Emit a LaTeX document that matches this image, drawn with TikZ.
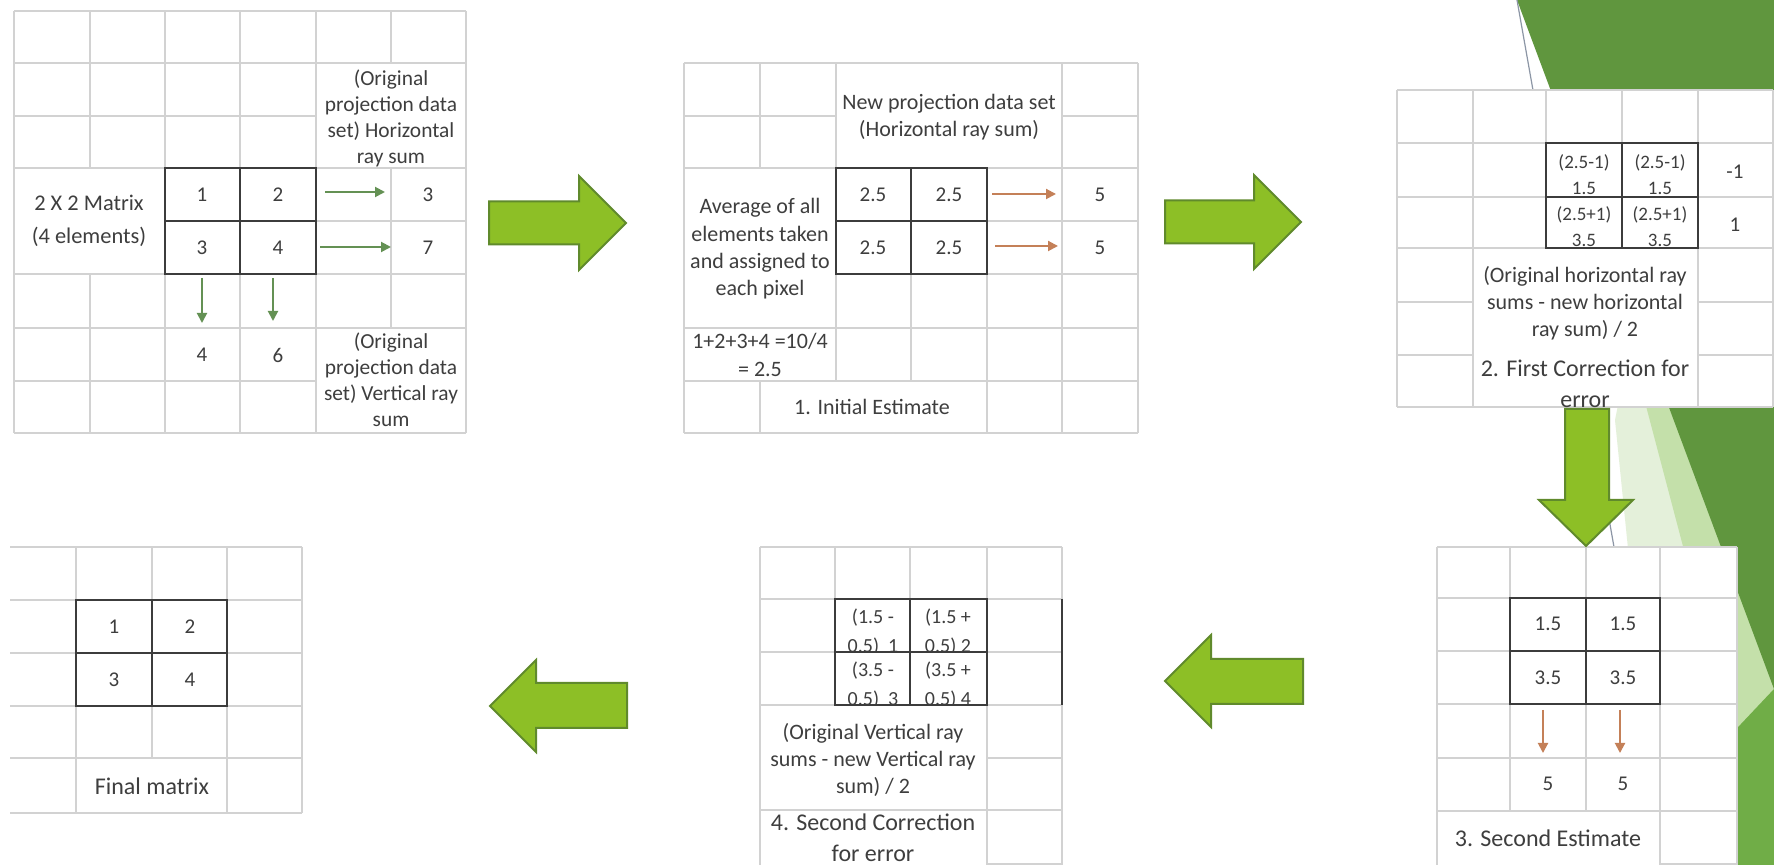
\documentclass[tikz,border=0pt]{standalone}
\usepackage{fontspec}
\setmainfont{Carlito}
\usetikzlibrary{arrows.meta}
\definecolor{gridc}{RGB}{210,210,210}
\definecolor{matc}{RGB}{60,60,60}
\definecolor{txtc}{RGB}{62,62,62}
\definecolor{arrfill}{RGB}{141,191,38}
\definecolor{arrdraw}{RGB}{96,138,44}
\definecolor{smallgreen}{RGB}{100,145,84}
\definecolor{smallorange}{RGB}{196,128,88}
\definecolor{darkgreen}{RGB}{96,150,62}
\definecolor{palegreen}{RGB}{196,224,170}
\definecolor{palelight}{RGB}{228,240,218}
\definecolor{brightgreen}{RGB}{112,173,71}
\definecolor{thinline}{RGB}{140,150,165}
\newcommand\mergecell[4]{\fill[white] ({#1+1},{#2+1}) rectangle ({#3-1},{#4-1});}
\tikzset{
 gridl/.style={draw=gridc, line width=0.85pt},
 mat/.style={draw=matc, line width=1.1pt},
 lbl/.style={text=txtc, font=\fontsize{10.7}{13}\selectfont, align=center, inner sep=0pt},
 lblb/.style={lbl, font=\fontsize{11}{13.7}\selectfont},
 lblc/.style={lbl, font=\fontsize{12}{13.5}\selectfont},
 lbln/.style={lbl, font=\fontsize{11}{13.5}\selectfont},
 num/.style={lbl, font=\fontsize{10.5}{13}\selectfont},
 cellt/.style={lbl, font=\fontsize{9.5}{13}\selectfont},
 bigarrow/.style={fill=arrfill, draw=arrdraw, line width=1pt, line join=miter},
 gsmall/.style={draw=smallgreen, line width=1pt, -{Triangle[length=5pt,width=5pt]}},
 osmall/.style={draw=smallorange, line width=1pt, -{Triangle[length=5pt,width=5pt]}},
}
\begin{document}
\begin{tikzpicture}[x=0.5pt,y=-0.5pt]
\useasboundingbox (0,0) rectangle (1774,865);
\fill[white] (0,0) rectangle (1774,865);
% ---------- background decoration (right side)
\fill[palelight] (1700,0) -- (1615,420) -- (1660,865) -- (1774,865) -- (1774,0) -- cycle;
\fill[palegreen] (1539,0) -- (1767,865) -- (1774,865) -- (1774,0) -- cycle;
\fill[darkgreen] (1517,0) -- (1774,0) -- (1774,689) -- cycle;
\fill[brightgreen] (1774,689) -- (1774,865) -- (1608,865) -- cycle;
\draw[thinline, line width=0.6pt] (1517,0) -- (1614,547);

% ================= Panel 1
\foreach \x in {14,90,165,240,316,391,466} \draw[gridl] (\x,11) -- (\x,433);
\foreach \y in {11,63,116,168,221,274,328,381,433} \draw[gridl] (14,\y) -- (466,\y);
\mergecell{316}{63}{466}{168}
\mergecell{14}{168}{165}{274}
\mergecell{316}{328}{466}{433}
\node[lbl, font=\fontsize{11.2}{16.5}\selectfont] (p1lab) at (89,221) {2 X 2 Matrix\\(4 elements)};
\node[lbl] (p1hs) at (391,118) {(Original\\projection data\\set) Horizontal\\ray sum};
\node[lbl] (p1vs) at (391,380) {(Original\\projection data\\set) Vertical ray\\sum};
\node[num] (p1a) at (202,195) {1};
\node[num] (p1b) at (278,195) {2};
\node[num] (p1c) at (202,248) {3};
\node[num] (p1d) at (278,248) {4};
\node[num] (p1r1) at (428,195) {3};
\node[num] (p1r2) at (428,248) {7};
\node[num] (p1c1) at (202,355) {4};
\node[num] (p1c2) at (278,355) {6};
\draw[mat] (165,168) rectangle (316,274);
\draw[mat] (240,168) -- (240,274);
\draw[mat] (165,221) -- (316,221);
\coordinate (p1h1s) at (325,192); \coordinate (p1h1e) at (385,192);
\coordinate (p1h2s) at (320,247); \coordinate (p1h2e) at (391,247);
\coordinate (p1v1s) at (202,278); \coordinate (p1v1e) at (202,323);
\coordinate (p1v2s) at (273,278); \coordinate (p1v2e) at (273,321);
\draw[gsmall] (p1h1s) -- (p1h1e);
\draw[gsmall] (p1h2s) -- (p1h2e);
\draw[gsmall] (p1v1s) -- (p1v1e);
\draw[gsmall] (p1v2s) -- (p1v2e);

% ================= Panel 2
\foreach \x in {684,760,836,911,987,1062,1138} \draw[gridl] (\x,63) -- (\x,433);
\foreach \y in {63,116,168,221,274,328,381,433} \draw[gridl] (684,\y) -- (1138,\y);
\mergecell{836}{63}{1062}{168}
\mergecell{684}{168}{836}{328}
\mergecell{684}{328}{836}{381}
\mergecell{760}{381}{987}{433}
\node[lblb] (p2new) at (949,117) {New projection data set\\(Horizontal ray sum)};
\node[lblb] (p2avg) at (760,249) {Average of all\\elements taken\\and assigned to\\each pixel};
\node[lblb] (p2sum) at (760,355) {1+2+3+4 =10/4\\= 2.5};
\node[lblb] (p2init) at (872,407) {1. Initial Estimate};
\node[num] (p2a) at (873,195) {2.5};
\node[num] (p2b) at (949,195) {2.5};
\node[num] (p2c) at (873,248) {2.5};
\node[num] (p2d) at (949,248) {2.5};
\node[num] (p2r1) at (1100,195) {5};
\node[num] (p2r2) at (1100,248) {5};
\draw[mat] (836,168) rectangle (987,274);
\draw[mat] (911,168) -- (911,274);
\draw[mat] (836,221) -- (987,221);
\coordinate (p2h1s) at (992,194); \coordinate (p2h1e) at (1056,194);
\coordinate (p2h2s) at (995,246); \coordinate (p2h2e) at (1058,246);
\draw[osmall] (p2h1s) -- (p2h1e);
\draw[osmall] (p2h2s) -- (p2h2e);

% ================= Panel 3
\fill[white] (1397,90) rectangle (1774,407);
\foreach \x in {1397,1473,1546,1622,1698,1773} \draw[gridl] (\x,90) -- (\x,407);
\foreach \y in {90,143,197,248,302,355,407} \draw[gridl] (1397,\y) -- (1773,\y);
\mergecell{1473}{248}{1698}{407}
\begin{scope}\clip (1546,143) rectangle (1622,197);
\node[cellt] (p3a) at (1584,175) {(2.5-1)\\1.5};\end{scope}
\begin{scope}\clip (1622,143) rectangle (1698,197);
\node[cellt] (p3b) at (1660,175) {(2.5-1)\\1.5};\end{scope}
\begin{scope}\clip (1546,197) rectangle (1622,248);
\node[cellt] (p3c) at (1584,227) {(2.5+1)\\3.5};\end{scope}
\begin{scope}\clip (1622,197) rectangle (1698,248);
\node[cellt] (p3d) at (1660,227) {(2.5+1)\\3.5};\end{scope}
\node[num] (p3r1) at (1735,172) {-1};
\node[num] (p3r2) at (1735,225) {1};
\node[lbln] (p3note) at (1585,303) {(Original horizontal ray\\sums - new horizontal\\ray sum) / 2};
\node[lblc, font=\fontsize{12}{15.5}\selectfont] (p3title) at (1585,384) {2. First Correction for\\error};
\draw[mat] (1546,143) rectangle (1698,248);
\draw[mat] (1622,143) -- (1622,248);
\draw[mat] (1546,197) -- (1698,197);

% ================= Panel 4
\fill[white] (1437,547) rectangle (1737,865);
\foreach \x in {1437,1510,1586,1660,1737} \draw[gridl] (\x,547) -- (\x,865);
\foreach \y in {547,598,651,704,758,811,864} \draw[gridl] (1437,\y) -- (1737,\y);
\mergecell{1437}{811}{1660}{866}
\node[num] (p4a) at (1548,624) {1.5};
\node[num] (p4b) at (1623,624) {1.5};
\node[num] (p4c) at (1548,678) {3.5};
\node[num] (p4d) at (1623,678) {3.5};
\node[num] (p4s1) at (1548,784) {5};
\node[num] (p4s2) at (1623,784) {5};
\node[lblc] (p4title) at (1548,838) {3. Second Estimate};
\draw[mat] (1510,598) rectangle (1660,704);
\draw[mat] (1586,598) -- (1586,704);
\draw[mat] (1510,651) -- (1660,651);
\coordinate (p4v1s) at (1543,710); \coordinate (p4v1e) at (1543,753);
\coordinate (p4v2s) at (1620,710); \coordinate (p4v2e) at (1620,753);
\draw[osmall] (p4v1s) -- (p4v1e);
\draw[osmall] (p4v2s) -- (p4v2e);

% ================= Panel 5
\foreach \x in {760,835,910,987,1062} \draw[gridl] (\x,547) -- (\x,865);
\foreach \y in {547,599,652,705,758,810,864} \draw[gridl] (760,\y) -- (1062,\y);
\mergecell{760}{705}{987}{810}
\mergecell{760}{810}{987}{866}
\begin{scope}\clip (835,599) rectangle (910,652);
\node[lbl, font=\fontsize{10}{14.5}\selectfont] (p5a) at (873,632) {(1.5 -\\0.5)~ 1};\end{scope}
\begin{scope}\clip (910,599) rectangle (987,652);
\node[lbl, font=\fontsize{10}{14.5}\selectfont] (p5b) at (948,632) {(1.5 +\\0.5) 2};\end{scope}
\begin{scope}\clip (835,652) rectangle (910,705);
\node[lbl, font=\fontsize{10}{14.5}\selectfont] (p5c) at (873,685) {(3.5 -\\0.5)~ 3};\end{scope}
\begin{scope}\clip (910,652) rectangle (987,705);
\node[lbl, font=\fontsize{10}{14.5}\selectfont] (p5d) at (948,685) {(3.5 +\\0.5) 4};\end{scope}
\node[lbln] (p5note) at (873,760) {(Original Vertical ray\\sums - new Vertical ray\\sum) / 2};
\node[lblc, font=\fontsize{12}{15.5}\selectfont] (p5title) at (873,838) {4. Second Correction\\for error};
\draw[mat] (835,599) rectangle (987,705);
\draw[mat] (910,599) -- (910,705);
\draw[mat] (835,652) -- (987,652);
\draw[mat] (1062,599) -- (1062,705);

% ================= Panel 6
\foreach \x in {76,152,227,302} \draw[gridl] (\x,547) -- (\x,813);
\foreach \y in {547,600,653,706,758,813} \draw[gridl] (10,\y) -- (302,\y);
\mergecell{76}{758}{227}{813}
\node[num] (p6a) at (114,627) {1};
\node[num] (p6b) at (190,627) {2};
\node[num] (p6c) at (114,680) {3};
\node[num] (p6d) at (190,680) {4};
\node[lblc] (p6title) at (152,786) {Final matrix};
\draw[mat] (76,600) rectangle (227,706);
\draw[mat] (152,600) -- (152,706);
\draw[mat] (76,653) -- (227,653);

% ================= Big green arrows
\filldraw[bigarrow] (489,201.5) -- (579,201.5) -- (579,176) -- (626,223) -- (579,270) -- (579,244.5) -- (489,244.5) -- cycle;
\filldraw[bigarrow] (1165,200.5) -- (1254,200.5) -- (1254,175) -- (1301,222) -- (1254,269) -- (1254,243.5) -- (1165,243.5) -- cycle;
\filldraw[bigarrow] (1565,409) -- (1609,409) -- (1609,500) -- (1633,500) -- (1586,546) -- (1539,500) -- (1565,500) -- cycle;
\filldraw[bigarrow] (1303,659) -- (1211,659) -- (1211,635) -- (1165,681) -- (1211,727) -- (1211,704) -- (1303,704) -- cycle;
\filldraw[bigarrow] (627,683) -- (536,683) -- (536,660) -- (490,706) -- (536,752) -- (536,728) -- (627,728) -- cycle;
\end{tikzpicture}
\end{document}
